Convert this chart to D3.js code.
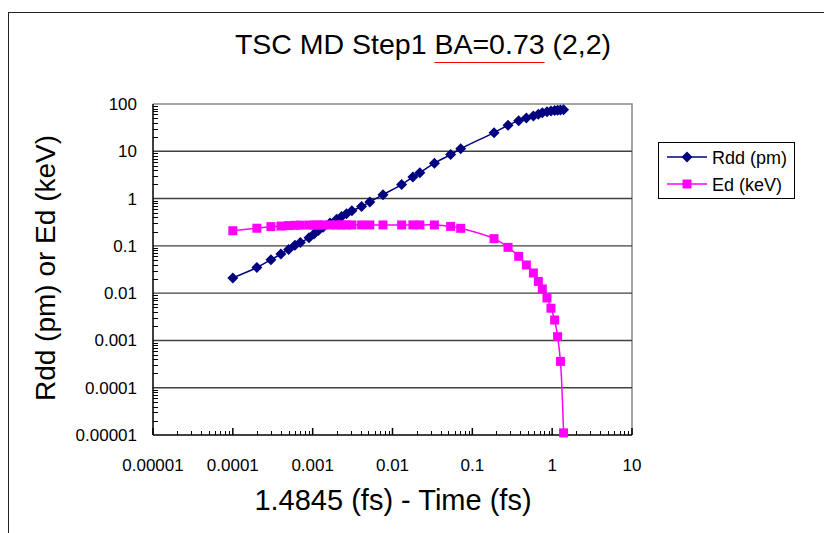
<!DOCTYPE html>
<html>
<head>
<meta charset="utf-8">
<script src="https://cdn.jsdelivr.net/npm/d3@7"></script>
<style>
  body { margin: 0; background: #fff; }
  text { font-family: "Liberation Sans", Arial, sans-serif; }
</style>
</head>
<body>
<svg id="chart" width="824" height="533"></svg>
<script>
// 1.4845 (fs) - time, shared by both series
const times = [0.0001, 0.0002, 0.0003, 0.0004, 0.0005, 0.0006, 0.0007, 0.0009, 0.00104, 0.00118,
  0.00135, 0.00165, 0.002, 0.0023, 0.00265, 0.0031, 0.0041, 0.0052, 0.0076, 0.013,
  0.018, 0.022, 0.0335, 0.0535, 0.0715, 0.187, 0.28, 0.381, 0.475, 0.582,
  0.671, 0.753, 0.861, 0.966, 1.074, 1.17, 1.27, 1.39];
const rdd = [0.021, 0.035, 0.051, 0.067, 0.084, 0.103, 0.118, 0.148, 0.179, 0.212,
  0.248, 0.305, 0.365, 0.42, 0.48, 0.55, 0.68, 0.85, 1.21, 1.98,
  2.85, 3.5, 5.6, 8.5, 11.3, 24.8, 35.5, 44.4, 50.6, 56,
  61, 65, 68.5, 71, 72.5, 73.8, 74.8, 75.5];
const ed = [0.209, 0.236, 0.255, 0.262, 0.268, 0.272, 0.274, 0.275, 0.276, 0.276,
  0.277, 0.277, 0.277, 0.277, 0.277, 0.277, 0.277, 0.277, 0.277, 0.277,
  0.277, 0.277, 0.277, 0.258, 0.235, 0.142, 0.093, 0.060, 0.0394, 0.0267,
  0.0177, 0.0123, 0.0079, 0.0048, 0.0027, 0.0012, 0.00036, 0.0000111];
const xTicks = [0.00001, 0.0001, 0.001, 0.01, 0.1, 1, 10];
const xTickLabels = ["0.00001", "0.0001", "0.001", "0.01", "0.1", "1", "10"];
const yTicks = [0.00001, 0.0001, 0.001, 0.01, 0.1, 1, 10, 100];
const yTickLabels = ["0.00001", "0.0001", "0.001", "0.01", "0.1", "1", "10", "100"];
const seriesNames = ["Rdd (pm)", "Ed (keV)"];

const svg = d3.select("#chart");

// outer chart border
svg.append("rect").attr("x", 8.5).attr("y", 12.5).attr("width", 830).attr("height", 540)
  .attr("fill", "none").attr("stroke", "#222").attr("stroke-width", 1);

const x = d3.scaleLog().domain([1e-5, 10]).range([153, 632]);
const y = d3.scaleLog().domain([1e-5, 100]).range([435, 104]);

// frame top/right
svg.append("path")
  .attr("d", `M${x(1e-5)},${y(100)}H${x(10)}V${y(1e-5)}`)
  .attr("fill", "none").attr("stroke", "#888").attr("stroke-width", 1.5);

// gridlines
svg.append("g").selectAll("line").data(yTicks.slice(1, -1)).join("line")
  .attr("x1", x(1e-5)).attr("x2", x(10))
  .attr("y1", d => y(d)).attr("y2", d => y(d))
  .attr("stroke", "#404040").attr("stroke-width", 1.4);

// minor ticks helper
const minors = (lo, hi) => {
  const out = [];
  for (let e = lo; e < hi; e++) for (let m = 2; m <= 9; m++) out.push(m * Math.pow(10, e));
  return out;
};

// y axis
const yAxis = svg.append("g");
yAxis.append("line").attr("x1", x(1e-5)).attr("x2", x(1e-5)).attr("y1", y(100)).attr("y2", y(1e-5))
  .attr("stroke", "#000").attr("stroke-width", 1.5);
yAxis.selectAll("line.minor").data(minors(-5, 2)).join("line").attr("class", "minor")
  .attr("x1", x(1e-5)).attr("x2", x(1e-5) + 5)
  .attr("y1", d => Math.round(y(d)) + 0.5).attr("y2", d => Math.round(y(d)) + 0.5)
  .attr("stroke", "#000").attr("stroke-width", 1);
yAxis.selectAll("text").data(yTicks).join("text")
  .attr("x", 137).attr("y", d => y(d) + 6)
  .attr("text-anchor", "end").attr("font-size", 17)
  .text((d, i) => yTickLabels[i]);

// x axis
const xAxis = svg.append("g");
xAxis.append("line").attr("x1", x(1e-5)).attr("x2", x(10)).attr("y1", y(1e-5)).attr("y2", y(1e-5))
  .attr("stroke", "#000").attr("stroke-width", 1.5);
xAxis.selectAll("line.minor").data(minors(-5, 1)).join("line").attr("class", "minor")
  .attr("x1", d => Math.round(x(d)) + 0.5).attr("x2", d => Math.round(x(d)) + 0.5)
  .attr("y1", y(1e-5)).attr("y2", y(1e-5) - 4)
  .attr("stroke", "#000").attr("stroke-width", 1);
xAxis.selectAll("line.major").data(xTicks).join("line").attr("class", "major")
  .attr("x1", d => x(d)).attr("x2", d => x(d))
  .attr("y1", y(1e-5)).attr("y2", y(1e-5) - 7)
  .attr("stroke", "#000").attr("stroke-width", 1.5);
xAxis.selectAll("text").data(xTicks).join("text")
  .attr("x", d => x(d)).attr("y", 471)
  .attr("text-anchor", "middle").attr("font-size", 17)
  .text((d, i) => xTickLabels[i]);

// series
const diamond = "M0,-5.5L5.5,0L0,5.5L-5.5,0Z";
const square = "M-4.5,-4.5H4.5V4.5H-4.5Z";
const series = [
  { name: seriesNames[0], values: rdd, color: "#000080", marker: diamond },
  { name: seriesNames[1], values: ed, color: "#FF00FF", marker: square },
];

const line = d3.line().curve(d3.curveCatmullRom.alpha(0.5));

series.forEach(s => {
  const pts = times.map((t, i) => [x(t), y(s.values[i])]);
  svg.append("path").attr("d", line(pts))
    .attr("fill", "none").attr("stroke", s.color).attr("stroke-width", 1.5);
  svg.append("g").selectAll("path").data(pts).join("path")
    .attr("d", s.marker)
    .attr("transform", d => `translate(${d[0]},${d[1]})`)
    .attr("fill", s.color);
});

// legend
const legend = svg.append("g");
legend.append("rect").attr("x", 658.5).attr("y", 142.5).attr("width", 136).attr("height", 56)
  .attr("fill", "#fff").attr("stroke", "#000").attr("stroke-width", 1);
series.forEach((s, i) => {
  const ly = 157 + i * 27;
  legend.append("line").attr("x1", 667).attr("x2", 707).attr("y1", ly).attr("y2", ly)
    .attr("stroke", s.color).attr("stroke-width", 1.5);
  legend.append("path").attr("d", s.marker).attr("transform", `translate(687,${ly})`).attr("fill", s.color);
  legend.append("text").attr("x", 712).attr("y", ly + 6.5).attr("font-size", 18).text(s.name);
});

// title
const title = svg.append("text").attr("x", 423).attr("y", 54)
  .attr("text-anchor", "middle").attr("font-size", 28.5)
  .text("TSC MD Step1 BA=0.73 (2,2)");
const tn = title.node();
const startIdx = "TSC MD Step1 ".length;
const endIdx = "TSC MD Step1 BA=0.73".length - 1;
const ux1 = tn.getStartPositionOfChar(startIdx).x;
const ux2 = tn.getEndPositionOfChar(endIdx).x;
svg.append("line").attr("x1", ux1).attr("x2", ux2).attr("y1", 62.5).attr("y2", 62.5)
  .attr("stroke", "#ff0000").attr("stroke-width", 1.2);

// axis titles
svg.append("text").attr("x", 393).attr("y", 510)
  .attr("text-anchor", "middle").attr("font-size", 29)
  .text("1.4845 (fs) - Time (fs)");
svg.append("text").attr("transform", "translate(55,268) rotate(-90)")
  .attr("text-anchor", "middle").attr("font-size", 28)
  .text("Rdd (pm) or Ed (keV)");
</script>
</body>
</html>
